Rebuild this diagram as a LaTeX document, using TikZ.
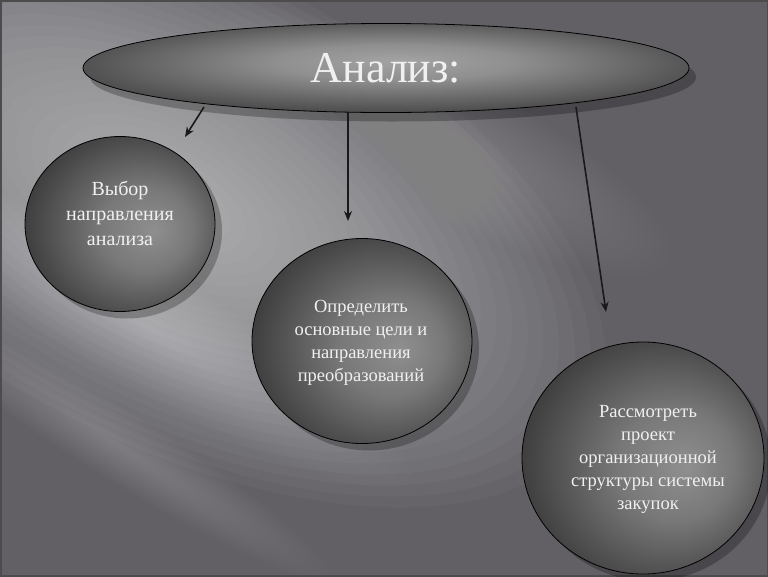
\documentclass[tikz,border=0pt]{standalone}
\usepackage{fontspec}
\setmainfont{Liberation Serif}
\usetikzlibrary{shapes.geometric,shadows,arrows.meta}
\definecolor{bgdark}{RGB}{98,96,101}
\pgfdeclareradialshading{orb}{\pgfpoint{9bp}{-2bp}}{color(0bp)=(black!44); color(12bp)=(black!53); color(30bp)=(black!77); color(44bp)=(black!90); color(50bp)=(black!93)}
\pgfdeclareradialshading{disc}{\pgfpoint{1bp}{4bp}}{color(0bp)=(black!36); color(10bp)=(black!44); color(28bp)=(black!72); color(44bp)=(black!90); color(50bp)=(black!94)}
\newcommand\glowblob[5]{%
  \foreach \k in {1,...,28} {%
    \fill[white,opacity=#5] (#1,#2) ellipse ({#3*(1.03-\k/28)} and {#4*(1.03-\k/28)});}}
\tikzset{
  bubble/.style={ellipse, draw=black, line width=0.8pt, shading=orb, inner sep=0pt,
    drop shadow={shadow xshift=7pt, shadow yshift=-7pt, opacity=0.25, fill=black}},
  title/.style={ellipse, draw=black, line width=0.8pt, shading=disc, inner sep=0pt,
    text=white!94!black,
    drop shadow={shadow xshift=7pt, shadow yshift=-9pt, opacity=0.25, fill=black}},
  link/.style={draw=black!90, line width=1.6pt, -{Stealth[length=10pt,width=8pt]}},
  txt/.style={text=white!94!black, align=center}
}
\begin{document}
\begin{tikzpicture}[x=1pt,y=-1pt]
\useasboundingbox (0,0) rectangle (768,576);
% background
\fill[bgdark] (0,0) rectangle (768,576);
\begin{scope}
\clip (0,0) rectangle (768,576);
\begin{scope}[shift={(170,200)},rotate=-28]
\glowblob{0}{0}{480}{240}{0.027}
\end{scope}
\begin{scope}[shift={(150,330)},rotate=-30]
\glowblob{0}{0}{300}{60}{0.012}
\end{scope}
\begin{scope}[shift={(110,440)},rotate=-32]
\glowblob{0}{0}{260}{35}{0.01}
\end{scope}
\begin{scope}[shift={(440,140)},rotate=-28]
\glowblob{0}{0}{260}{70}{0.006}
\end{scope}
\end{scope}
\draw[black!70, line width=3pt] (0,0) rectangle (768,576);

% nodes
\node[title, minimum width=606pt, minimum height=89pt] (an) at (386,68)
  {\fontsize{44}{50}\selectfont Анализ:};
\node[bubble, minimum width=190pt, minimum height=175pt] (c1) at (120,224) {};
\node[txt, font=\fontsize{20}{25}\selectfont] (t1) at (120,213) {Выбор\\направления\\анализа};
\node[bubble, minimum width=220pt, minimum height=205pt] (c2) at (362,341) {};
\node[txt, font=\fontsize{18.5}{23}\selectfont] (t2) at (361,343) {Определить\\основные цели и\\направления\\преобразований};
\node[bubble, minimum width=242pt, minimum height=232pt] (c3) at (643,458) {};
\node[txt, font=\fontsize{18.5}{23}\selectfont] (t3) at (648,459) {Рассмотреть\\проект\\организационной\\структуры системы\\закупок};

% connectors
\coordinate (s1) at (204,107);
\coordinate (e1) at (185,137);
\coordinate (s2) at (348,112);
\coordinate (e2) at (348,221);
\coordinate (s3) at (576,107);
\coordinate (e3) at (606,312);
\draw[link] (s1) -- (e1);
\draw[link] (s2) -- (e2);
\draw[link] (s3) -- (e3);
\end{tikzpicture}
\end{document}
